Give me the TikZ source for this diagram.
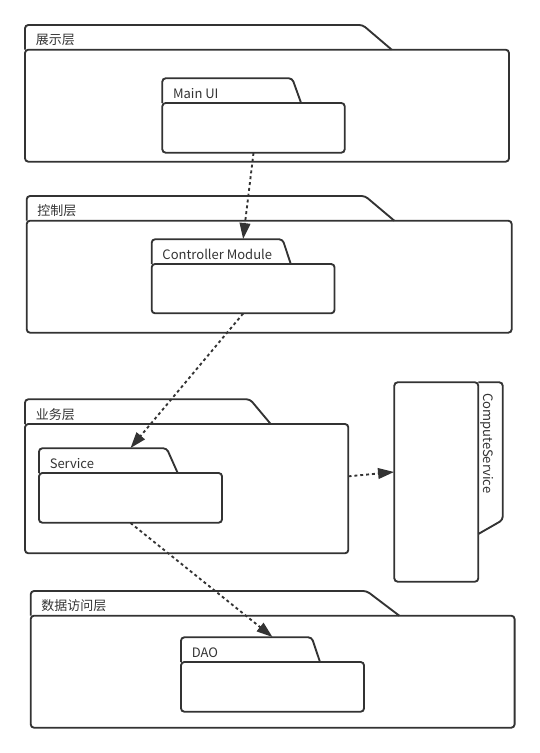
\documentclass[tikz,border=0pt]{standalone}
\usepackage{fontspec}
\setmainfont{Noto Sans CJK SC}
\usetikzlibrary{arrows.meta,fit,calc}
\definecolor{ink}{HTML}{333333}
\begin{document}
\begin{tikzpicture}[x=0.75pt,y=-0.75pt,
  pkg/.style={draw=ink,line width=1.4pt,rounded corners=2.5pt},
  lbl/.style={inner sep=0pt,text=ink,font=\fontsize{9.75pt}{11pt}\selectfont},
  dep/.style={draw=ink,line width=1.4pt,dash pattern=on 2.2pt off 2.2pt,-{Triangle[length=12pt,width=8pt]}}]
\useasboundingbox (0,0) rectangle (539,753);

\foreach \n/\l/\t/\r/\b/\s/\e/\lab in {
  pres/25/25/509/161.7/362.7/391.7/展示层,
  mainui/162.3/78.3/344.7/152.7/292.2/301.1/Main UI,
  ctrl/26.7/196/511.7/332.7/365/394.3/控制层,
  ctrlmod/151.7/239.3/334.5/313.3/282.6/290.8/Controller Module,
  busi/25/399.3/348.3/553.3/250/270.7/业务层,
  service/39/448.3/222/522.7/166.7/177.7/Service,
  data/30.7/591/514.6/727.7/366.7/399.3/数据访问层,
  dao/181/637.3/364/711.7/311.7/320/DAO}
{
  \draw[pkg] (\l,\t+24.7) |- (\s,\t) -- (\e,\t+24.7);
  \draw[pkg] (\l,\t+24.7) rectangle (\r,\b);
  \node[fit={(\l,\t) (\r,\b)},inner sep=0pt] (\n) {};
  \node[lbl,anchor=west] (\n-lab) at (\l+10.5,\t+15) {\lab};
}

\draw[pkg] (394.3,382.3) rectangle (478.3,581.7);
\draw[pkg] (478.3,382.3) -| (502.7,520) -- (478.3,534);
\node[fit={(394.3,382.3) (502.7,581.7)},inner sep=0pt] (comp) {};
\node[lbl,rotate=-90,anchor=west] (comp-lab) at (487,393) {ComputeService};

\draw[dep] (mainui.south) -- (ctrlmod.north);
\draw[dep] (ctrlmod.south) -- (service.north);
\draw[dep] (busi.east) -- ($(comp.north west)!0.45!(comp.south west)$);
\draw[dep] (service.south) -- (dao.north);

\end{tikzpicture}
\end{document}
